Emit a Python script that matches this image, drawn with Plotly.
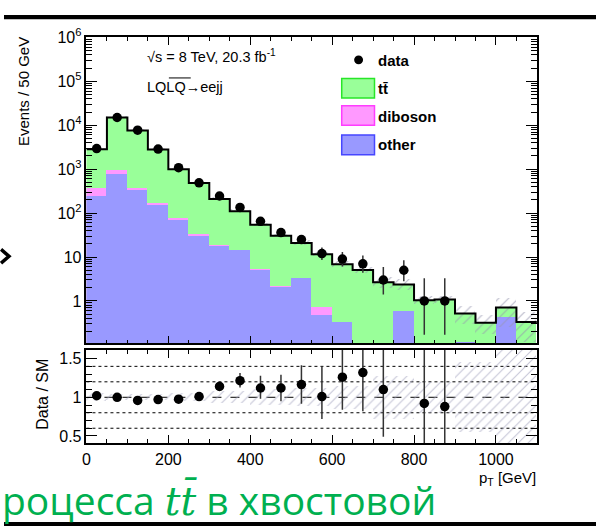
import plotly.graph_objects as go

W, H = 596, 527

# ---------------- data ----------------
bin_centers = [25, 75, 125, 175, 225, 275, 325, 375, 425, 475, 525,
               575, 625, 675, 725, 775, 825, 875, 925, 975, 1025, 1075]
bin_width = 50

other   = [237, 757, 333, 149, 69, 30, 17.3, 13.9, 5.0, 2.05, 3.25,
           0.46, 0.32, 0, 0, 0.57, 0, 0, 0.115, 0, 0.43, 0]
diboson = [124, 172, 28, 14, 5, 2, 1.2, 0.5, 0.3, 0.1, 0.1,
           0.25, 0, 0, 0, 0, 0, 0, 0, 0, 0, 0]
ttbar   = [2490, 14070, 7240, 2640, 926, 452, 192, 96, 48.7, 28.4, 17.6,
           10.8, 6.5, 5.07, 2.65, 1.79, 1.04, 1.08, 0.405, 0.32, 0.28, 0.33]
mc_rel_unc = [0.05, 0.04, 0.04, 0.04, 0.05, 0.05, 0.08, 0.08, 0.1, 0.1, 0.12,
              0.12, 0.15, 0.15, 0.28, 0.28, 0.2, 0.2, 0.45, 0.45, 0.65, 0.65]

data        = [2950, 15000, 7700, 2870, 1080, 490, 245, 135, 65, 36, 25,
               12, 9, 7, 3, 5, 1, 1, None, None, None, None]
data_err_up = [54, 122, 88, 54, 33, 22, 16, 12, 9.1, 7.0, 6.0,
               4.5, 4.1, 3.8, 2.9, 3.4, 2.3, 2.3, 0, 0, 0, 0]
data_err_dn = [54, 122, 88, 54, 33, 22, 16, 12, 8.0, 6.0, 5.0,
               3.4, 2.9, 2.6, 1.6, 2.2, 0.83, 0.83, 0, 0, 0, 0]

ratio        = [1.02, 1.0, 0.96, 0.97, 0.975, 1.01, 1.14, 1.215, 1.12, 1.12, 1.165,
                1.01, 1.26, 1.32, 1.10, None, 0.92, 0.88, None, None, None, None]
ratio_err_up = [0.02, 0.01, 0.015, 0.02, 0.03, 0.05, 0.06, 0.1, 0.16, 0.17, 0.25,
                0.39, 0.5, 0.6, 0.97, 0, 2.3, 2.6, 0, 0, 0, 0]
ratio_err_dn = [0.02, 0.01, 0.015, 0.02, 0.03, 0.05, 0.06, 0.09, 0.14, 0.17, 0.25,
                0.29, 0.42, 0.5, 0.61, 0, 0.76, 0.75, 0, 0, 0, 0]

main_tickvals = [1, 10, 100, 1000, 10000, 100000, 1000000]
main_ticktext = ["1", "10", "10<sup>2</sup>", "10<sup>3</sup>", "10<sup>4</sup>",
                 "10<sup>5</sup>", "10<sup>6</sup>"]
x_tickvals = [0, 200, 400, 600, 800, 1000]
ratio_tickvals = [0.5, 1, 1.5]
ratio_ticktext = ["0.5", "1", "1.5"]
ratio_gridlines = [0.6, 0.8, 1.2, 1.4]

# ---------------- derived stacks ----------------
n = len(bin_centers)
stack_other = [other[i] for i in range(n)]
stack_dib = [other[i] + diboson[i] for i in range(n)]
stack_tot = [other[i] + diboson[i] + ttbar[i] for i in range(n)]
nz = lambda v: [x if (x is not None and x > 0) else None for x in v]
edges = [c - bin_width / 2 for c in bin_centers] + [bin_centers[-1] + bin_width / 2]

GREEN, PINK, BLUE = "rgb(153,255,153)", "rgb(255,153,255)", "rgb(153,153,255)"
FONT = "Liberation Sans, Arial, Helvetica, sans-serif"

def px(x):
    return x / W

def py(y):
    return 1 - y / H

X0, X1 = px(83), px(536.5)
MAIN_DOM = [py(340), py(27)]
RAT_DOM = [py(442), py(347)]

fig = go.Figure()

bar_common = dict(width=[bin_width] * n, showlegend=False, hoverinfo="skip")
for vals, col in [(stack_tot, GREEN), (stack_dib, PINK), (stack_other, BLUE)]:
    fig.add_trace(go.Bar(x=bin_centers, y=nz(vals), marker=dict(color=col, line=dict(width=0)),
                         xaxis="x", yaxis="y", **bar_common))

# MC uncertainty hatch (main)
fig.add_trace(go.Bar(
    x=bin_centers,
    y=[stack_tot[i] * 2 * mc_rel_unc[i] for i in range(n)],
    base=[stack_tot[i] * (1 - mc_rel_unc[i]) for i in range(n)],
    marker=dict(color="rgba(0,0,0,0)", line=dict(width=0),
                pattern=dict(shape="/", fgcolor="rgb(150,150,175)", bgcolor="rgba(0,0,0,0)",
                             size=7, solidity=0.15, fgopacity=0.7)),
    xaxis="x", yaxis="y", **bar_common))

# total step outline
fig.add_trace(go.Scatter(x=edges, y=stack_tot + [stack_tot[-1]], mode="lines",
                         line=dict(color="black", width=2, shape="hv"),
                         xaxis="x", yaxis="y", showlegend=False, hoverinfo="skip"))

# data
fig.add_trace(go.Scatter(x=bin_centers, y=data, mode="markers",
                         marker=dict(color="black", size=9.5),
                         error_y=dict(type="data", symmetric=False, array=data_err_up,
                                      arrayminus=data_err_dn, color="#333", thickness=1.5, width=0),
                         xaxis="x", yaxis="y", showlegend=False, hoverinfo="skip"))

# ratio band
fig.add_trace(go.Bar(
    x=bin_centers,
    y=[2 * u for u in mc_rel_unc],
    base=[1 - u for u in mc_rel_unc],
    marker=dict(color="rgba(0,0,0,0)", line=dict(width=0),
                pattern=dict(shape="/", fgcolor="rgb(170,170,195)", bgcolor="rgba(0,0,0,0)",
                             size=7, solidity=0.15, fgopacity=0.7)),
    xaxis="x2", yaxis="y2", **bar_common))

fig.add_trace(go.Scatter(x=bin_centers, y=ratio, mode="markers",
                         marker=dict(color="black", size=9.5),
                         error_y=dict(type="data", symmetric=False, array=ratio_err_up,
                                      arrayminus=ratio_err_dn, color="#333", thickness=1.5, width=0),
                         xaxis="x2", yaxis="y2", showlegend=False, hoverinfo="skip"))

axis_common = dict(showline=True, linecolor="black", linewidth=1.5, mirror="allticks",
                   ticks="inside", tickcolor="black", showgrid=False, zeroline=False,
                   tickfont=dict(family=FONT, size=16, color="black"))

fig.update_layout(
    width=W, height=H, margin=dict(l=0, r=0, t=0, b=0),
    paper_bgcolor="white", plot_bgcolor="white",
    barmode="overlay", bargap=0, showlegend=False,
    xaxis=dict(domain=[X0, X1], range=[0, 1100], anchor="y", matches="x2",
               showticklabels=False, tickvals=x_tickvals, ticklen=8,
               minor=dict(dtick=50, tick0=0, ticks="inside", ticklen=4, tickcolor="black"),
               **axis_common),
    yaxis=dict(domain=MAIN_DOM, type="log", range=[-0.963, 6.0], anchor="x",
               tickvals=main_tickvals, ticktext=main_ticktext, ticklen=11,
               minor=dict(dtick="D1", ticks="inside", ticklen=6, tickcolor="black"),
               **axis_common),
    xaxis2=dict(domain=[X0, X1], range=[0, 1100], anchor="y2",
                tickvals=x_tickvals, ticklen=8, ticklabelstandoff=1,
                minor=dict(dtick=50, tick0=0, ticks="inside", ticklen=4, tickcolor="black"),
                **axis_common),
    yaxis2=dict(domain=RAT_DOM, range=[0.41, 1.61], anchor="x2",
                tickvals=ratio_tickvals, ticktext=ratio_ticktext, ticklen=11,
                minor=dict(dtick=0.1, tick0=0, ticks="inside", ticklen=6, tickcolor="black"),
                **axis_common),
)

shapes = []
for g in ratio_gridlines:
    shapes.append(dict(type="line", xref="x2 domain", yref="y2", x0=0, x1=1, y0=g, y1=g,
                       line=dict(color="black", width=1, dash="dot"), layer="below"))
shapes.append(dict(type="line", xref="x2 domain", yref="y2", x0=0, x1=1, y0=1, y1=1,
                   line=dict(color="black", width=1, dash="dash"), layer="below"))

# legend (manual)
shapes.append(dict(type="circle", xref="paper", yref="paper",
                   x0=px(352.5), x1=px(361.5), y0=py(54.5), y1=py(45.5),
                   fillcolor="black", line=dict(width=0)))
for (y0, y1), fill, edge in [((69, 89), GREEN, "rgb(40,230,40)"),
                             ((97, 117), PINK, "rgb(255,60,255)"),
                             ((127, 147), BLUE, "rgb(70,70,255)")]:
    shapes.append(dict(type="rect", xref="paper", yref="paper",
                       x0=px(340), x1=px(373), y0=py(y1), y1=py(y0),
                       fillcolor=fill, line=dict(color=edge, width=1.5)))

# overline for the anti-LQ
shapes.append(dict(type="line", xref="paper", yref="paper",
                   x0=px(166), x1=px(188), y0=py(68.5), y1=py(68.5),
                   line=dict(color="black", width=1)))

# slide decorations
shapes.append(dict(type="rect", xref="paper", yref="paper", x0=0, x1=1, y0=py(8.5), y1=py(4),
                   fillcolor="black", line=dict(width=0)))
shapes.append(dict(type="rect", xref="paper", yref="paper", x0=0, x1=1, y0=py(527), y1=py(523),
                   fillcolor="black", line=dict(width=0)))
shapes.append(dict(type="path", xref="paper", yref="paper",
                   path=f"M {px(-3)},{py(244)} L {px(5)},{py(251)} L {px(-3)},{py(258)}",
                   line=dict(color="black", width=3.5)))
fig.update_layout(shapes=shapes)

ann = []
def text(x, y, s, size=14, xanchor="left", bold=False, angle=0, family=FONT, color="black"):
    ann.append(dict(x=px(x), y=py(y), xref="paper", yref="paper", text=s, showarrow=False,
                    xanchor=xanchor, yanchor="middle", textangle=angle, borderpad=0,
                    font=dict(family=family, size=size, color=color)))

text(143, 46, "√s = 8 TeV, 20.3 fb<sup>-1</sup>", size=14.5)
text(143, 78, "LQLQ→eejj", size=14.5)
text(376, 51, "<b>data</b>", size=15)
text(376, 79, "<b>tt̄</b>", size=15)
text(376, 108, "<b>diboson</b>", size=15)
text(376, 137, "<b>other</b>", size=15)
text(19, 82, "Events / 50 GeV", size=15, xanchor="center", angle=-90)
text(38, 392, "Data / SM", size=16, xanchor="center", angle=-90)
text(537, 478, "p<sub>T</sub> [GeV]", size=15, xanchor="right")
text(-3, 500, "роцесса <i style=\"font-family:'DejaVu Serif'\">tt̄</i> в хвостовой",
     size=39, family="Open Sans, Noto Sans, sans-serif", color="rgb(0,176,80)")
fig.update_layout(annotations=ann)

fig.write_html("out.html")
